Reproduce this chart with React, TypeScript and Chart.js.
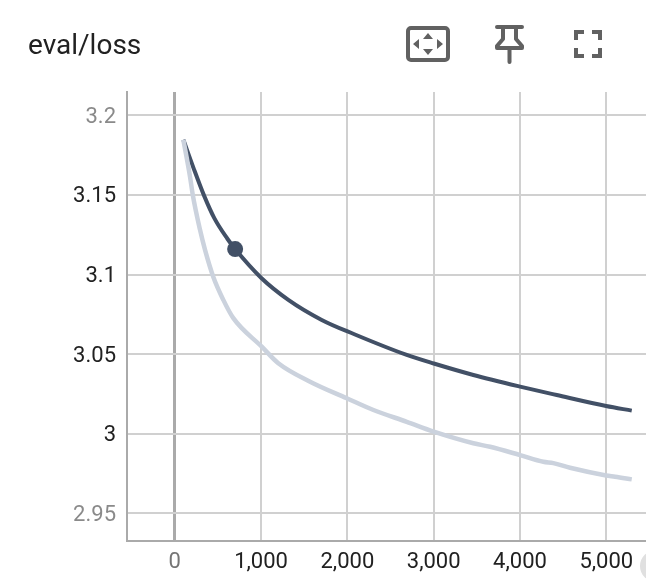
import React, { useEffect, useRef } from "react";
import { Chart, registerables } from "chart.js";

Chart.register(...registerables);

const smoothedSteps = [100, 216, 340, 460, 610, 700, 1000, 1316, 1703, 2081, 2688, 3001, 3460, 4001, 4426, 4998, 5295];
const smoothedLoss = [3.1847, 3.1672, 3.1496, 3.1353, 3.1225, 3.116, 3.098, 3.0841, 3.0715, 3.0625, 3.0495, 3.0441, 3.0369, 3.0296, 3.0243, 3.0174, 3.0145];

const rawSteps = [100, 177, 209, 293, 351, 447, 563, 679, 1008, 1200, 1568, 1993, 2302, 2688, 3001, 3460, 3654, 4001, 4271, 4387, 4580, 4998, 5102, 5295];
const rawLoss = [3.1847, 3.1616, 3.1501, 3.1281, 3.1155, 3.0985, 3.0841, 3.0726, 3.0547, 3.0443, 3.0327, 3.0223, 3.0149, 3.0075, 3.0013, 2.994, 2.9918, 2.9866, 2.9824, 2.9815, 2.9786, 2.9738, 2.9730, 2.9713];

const markerStep = [700];
const markerLoss = [3.116];

const xTickValues = [0, 1000, 2000, 3000, 4000, 5000];
const xTickLabels = ["0", "1,000", "2,000", "3,000", "4,000", "5,000"];
const yTickValues = [2.95, 3, 3.05, 3.1, 3.15, 3.2];
const yTickLabels = ["2.95", "3", "3.05", "3.1", "3.15", "3.2"];

const pairs = (xs: number[], ys: number[]) => xs.map((x, i) => ({ x, y: ys[i] }));

export default function App() {
  const ref = useRef<HTMLCanvasElement>(null);
  useEffect(() => {
    document.body.style.margin = "0";
    const tickFont = { family: "Roboto", size: 22 };
    const chart = new Chart(ref.current!, {
      type: "line",
      data: {
        datasets: [
          { data: pairs(rawSteps, rawLoss), borderColor: "#cbd2dd", borderWidth: 4.5, pointRadius: 0, cubicInterpolationMode: "monotone", borderCapStyle: "butt" },
          { data: pairs(smoothedSteps, smoothedLoss), borderColor: "#425066", borderWidth: 4, pointRadius: 0, cubicInterpolationMode: "monotone", borderCapStyle: "butt" },
          { data: pairs(markerStep, markerLoss), borderColor: "#425066", backgroundColor: "#425066", pointRadius: 8, pointBorderWidth: 0, showLine: false },
        ],
      },
      options: {
        animation: false,
        responsive: false,
        events: [],
        layout: { autoPadding: false, padding: { top: 92, right: 0, left: 0, bottom: 0 } },
        plugins: { legend: { display: false }, tooltip: { enabled: false }, title: { display: false } },
        scales: {
          x: {
            type: "linear",
            min: -553,
            max: 5460,
            afterBuildTicks: (s: any) => { s.ticks = xTickValues.map((value) => ({ value })); },
            afterFit: (s: any) => { s.height = 41; s.paddingLeft = 0; s.paddingRight = 0; },
            border: { color: "#aaaaaa", width: 2 },
            grid: {
              drawTicks: false,
              color: (c: any) => (c.tick && c.tick.value === 0 ? "#aaaaaa" : "#d0d0d0"),
              lineWidth: (c: any) => (c.tick && c.tick.value === 0 ? 3 : 2),
            },
            ticks: {
              autoSkip: false,
              maxRotation: 0,
              padding: 8,
              font: tickFont,
              color: (c: any) => (c.tick.value === 0 ? "#757575" : "#212121"),
              callback: (v: any) => xTickLabels[xTickValues.indexOf(v)],
            },
          },
          y: {
            type: "linear",
            min: 2.9326,
            max: 3.2147,
            afterBuildTicks: (s: any) => { s.ticks = yTickValues.map((value) => ({ value })); },
            afterFit: (s: any) => { s.width = 127; s.paddingTop = 0; s.paddingBottom = 0; },
            border: { color: "#aaaaaa", width: 2 },
            grid: { drawTicks: false, color: "#d0d0d0", lineWidth: 2 },
            ticks: {
              autoSkip: false,
              padding: 11,
              labelOffset: 2,
              font: tickFont,
              color: (c: any) => (c.tick.value === 2.95 || c.tick.value === 3.2 ? "#8a8a8a" : "#212121"),
              callback: (v: any) => yTickLabels[yTickValues.indexOf(v)],
            },
          },
        },
      } as any,
    } as any);
    return () => chart.destroy();
  }, []);

  return (
    <div style={{ position: "absolute", left: 0, top: 0, width: 646, height: 582, overflow: "hidden", background: "#fff" }}>
      <canvas ref={ref} width={646} height={582} style={{ position: "absolute", left: 0, top: 0, width: 646, height: 582 }} />
      <div style={{ position: "absolute", left: 28, top: 28, fontFamily: "Roboto", fontSize: 28, lineHeight: "34px", color: "#212121" }}>eval/loss</div>
      <svg width={646} height={80} style={{ position: "absolute", left: 0, top: 0 }}>
        <rect x={408} y={28} width={40} height={32} rx={3} fill="none" stroke="#616161" strokeWidth={4} />
        <path d="M428 33l-5 6h10zM428 55l-5-6h10zM413 44l6-5v10zM443 44l-6-5v10z" fill="#616161" />
        <path d="M497 27h25M503 27v12l-6 7v2h25v-2l-6-7v-12M509.500 48v14" fill="none" stroke="#616161" strokeWidth={4} strokeLinecap="round" strokeLinejoin="round" />
        <path d="M576 40v-8h8M592 32h8v8M600 48v8h-8M584 56h-8v-8" fill="none" stroke="#616161" strokeWidth={4} />
      </svg>
      <div style={{ position: "absolute", left: 640, top: 550, width: 32, height: 32, borderRadius: "50%", background: "#e0e0e0" }} />
    </div>
  );
}
